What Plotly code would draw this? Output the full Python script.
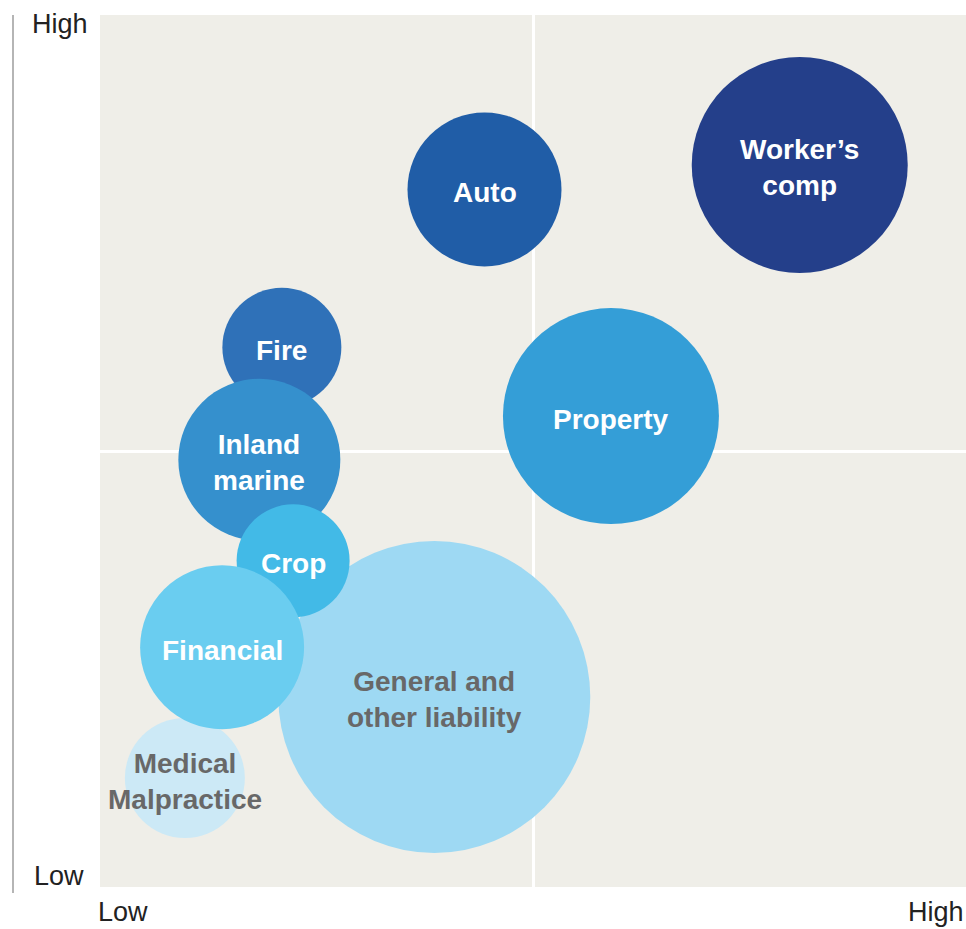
import plotly.graph_objects as go

# ---- data (x: 0-10 Low->High, y: 0-10 Low->High, size: relative bubble diameter) ----
categories = ["General and<br>other liability", "Medical<br>Malpractice", "Fire",
              "Inland<br>marine", "Crop", "Financial", "Auto", "Property",
              "Worker’s<br>comp"]
x_values = [3.86, 0.98, 2.10, 1.84, 2.23, 1.41, 4.44, 5.90, 8.08]
y_values = [2.18, 1.25, 6.19, 4.90, 3.74, 2.75, 8.00, 5.40, 8.28]
size_values = [31.2, 12.0, 11.9, 16.2, 11.3, 16.4, 15.4, 21.6, 21.6]
colors = ["#9ED9F3", "#CCE9F6", "#2F71B8", "#3590CD", "#42BAE7", "#6ACDF0",
          "#205DA7", "#349ED7", "#243F8A"]
text_colors = ["#686868", "#686868", "white", "white", "white", "white",
               "white", "white", "white"]
axis_low = "Low"
axis_high = "High"

W, H = 966, 929
ML, MR, MT, MB = 100, 0, 15, 42
PW = W - ML - MR
PH = H - MT - MB

def px_x(p):
    return (p - ML) / PW

def px_y(p):
    return (H - MB - p) / PH

fig = go.Figure()
fig.add_trace(go.Scatter(
    x=x_values, y=y_values, mode="markers",
    marker=dict(size=[s * 10 for s in size_values], sizemode="diameter",
                color=colors, opacity=1, line=dict(width=0)),
    hoverinfo="skip", showlegend=False,
))

for xv, yv, t, c in zip(x_values, y_values, categories, text_colors):
    fig.add_annotation(
        x=xv, y=yv, xref="x", yref="y", text=t, showarrow=False,
        xanchor="center", yanchor="middle", yshift=-3, align="center",
        font=dict(family="Liberation Sans, Arial, sans-serif", size=28,
                  color=c, weight="bold"),
    )

fig.update_xaxes(range=[0, 10], tickvals=[5], showticklabels=False, ticks="",
                 showgrid=True, gridcolor="white", gridwidth=3,
                 zeroline=False, showline=False, fixedrange=True)
fig.update_yaxes(range=[0, 10], tickvals=[5], showticklabels=False, ticks="",
                 showgrid=True, gridcolor="white", gridwidth=3,
                 zeroline=False, showline=False, fixedrange=True)

font_lbl = dict(family="Liberation Sans, Arial, sans-serif", size=27, color="#222222")
ann = [
    dict(text=axis_high, x=px_x(30), y=px_y(24), xanchor="left", yanchor="middle"),
    dict(text=axis_low, x=px_x(32), y=px_y(876), xanchor="left", yanchor="middle"),
    dict(text=axis_low, x=px_x(96), y=px_y(912), xanchor="left", yanchor="middle"),
    dict(text=axis_high, x=1.0, y=px_y(912), xanchor="right", yanchor="middle"),
]
for a in ann:
    fig.add_annotation(xref="paper", yref="paper", showarrow=False, font=font_lbl, **a)

fig.add_shape(type="line", xref="paper", yref="paper",
              x0=px_x(13), x1=px_x(13), y0=px_y(15), y1=px_y(893),
              line=dict(color="#B5B5B5", width=2))

fig.update_layout(
    width=W, height=H,
    margin=dict(l=ML, r=MR, t=MT, b=MB, pad=0),
    paper_bgcolor="white", plot_bgcolor="#EFEEE8",
    showlegend=False,
)

fig.write_html("out.html", config={"displayModeBar": False},
               post_script="document.body.style.margin='0';document.body.style.overflow='hidden';")
